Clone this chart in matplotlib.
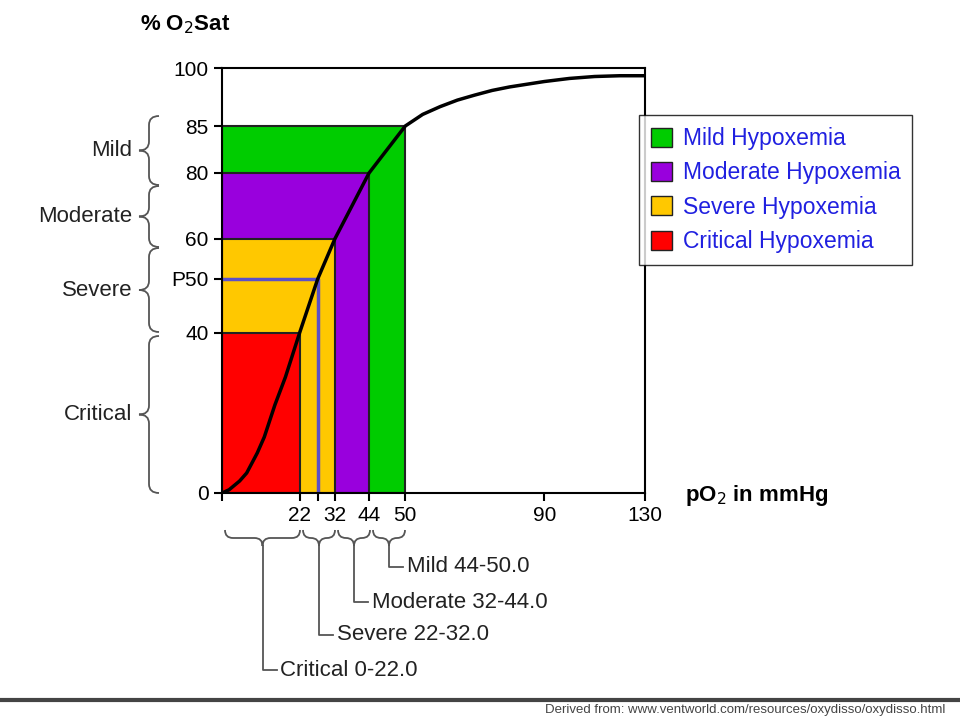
import numpy as np
import matplotlib
matplotlib.use("Agg")
import matplotlib.pyplot as plt
from matplotlib.path import Path
from matplotlib.patches import PathPatch, Patch

plt.rcParams['font.family'] = ['Liberation Sans', 'DejaVu Sans']

# ---- data ----
levels = ["Mild Hypoxemia", "Moderate Hypoxemia", "Severe Hypoxemia", "Critical Hypoxemia"]
po2_upper = [50, 44, 32, 22]
sat_upper = [85, 80, 60, 40]
colors = ["#00cc00", "#9900dd", "#ffc800", "#ff0000"]
p50_po2, p50_sat = 27, 50
curve_po2 = [0, 2, 5, 7, 10, 12, 15, 18, 22, 27, 32, 38, 44, 50, 55, 60, 65, 70, 75, 80, 90, 100, 110, 120, 130]
curve_sat = [0, 0.8, 3, 5, 10, 14, 22, 29, 40, 50, 60, 70, 80, 85, 88, 90, 91.7, 93, 94.2, 95.1, 96.5, 97.3, 97.8, 98, 98]
xticks = [0, 22, 27, 32, 44, 50, 90, 130]
xticklabels = ["", "22", "", "32", "44", "50", "90", "130"]
yticks = [0, 40, 50, 60, 80, 85, 100]
yticklabels = ["0", "40", "P50", "60", "80", "85", "100"]
left_groups = ["Mild", "Moderate", "Severe", "Critical"]
bottom_labels = ["Mild 44-50.0", "Moderate 32-44.0", "Severe 22-32.0", "Critical 0-22.0"]

# nonlinear axis layouts (positions in axis pixels)
xa = np.array([0, 22, 27, 32, 44, 50, 90, 130]); xp = np.array([3, 80, 98, 115, 149, 185, 323, 423])
ya = np.array([0, 40, 50, 60, 80, 85, 100]); yp = np.array([0, 160, 214, 254, 320, 367, 425])

fig = plt.figure(figsize=(9.6, 7.2), dpi=100)
ax = fig.add_axes([222/960, 1-493/720, 423/960, 425/720])
ax.set_xscale("function", functions=(lambda v: np.interp(v, xa, xp), lambda p: np.interp(p, xp, xa)))
ax.set_yscale("function", functions=(lambda v: np.interp(v, ya, yp), lambda p: np.interp(p, yp, ya)))
ax.set_xlim(-1, 130); ax.set_ylim(0, 100)

for w, h, c, lab in zip(po2_upper, sat_upper, colors, levels):
    ax.bar(0, h, width=w, align="edge", color=c, edgecolor="#222222", linewidth=1.5, label=lab)
ax.plot([0, p50_po2, p50_po2], [p50_sat, p50_sat, 0], color="#5a50c8", lw=2.5)
ax.plot(curve_po2, curve_sat, color="black", lw=2.5, solid_joinstyle="round")

ax.set_xticks(xticks); ax.set_xticklabels(xticklabels, fontsize=15)
ax.set_yticks(yticks); ax.set_yticklabels(yticklabels, fontsize=15)
ax.tick_params(length=6, width=1.5)
for s in ax.spines.values():
    s.set_linewidth(1.5)

fig.text(140/960, 1-25/720, "% O$_2$Sat", fontsize=16, fontweight="bold", ha="left", va="center")
fig.text(685/960, 1-495/720, "pO$_2$ in mmHg", fontsize=16, fontweight="bold", ha="left", va="center")

handles = [Patch(facecolor=c, edgecolor="#222222") for c in colors]
fig.legend(handles, levels, loc="upper left", bbox_to_anchor=(628/960, 1-104/720), fontsize=16.5,
           labelcolor="#2020e0", frameon=True, edgecolor="black", fancybox=False,
           handlelength=0.9, handleheight=0.9, borderpad=0.5, labelspacing=0.5, handletextpad=0.5)

def fp(x, y):
    return (x/960, 1-y/720)

def vbrace(x, y0, y1, w=20, r=9):
    ym = (y0+y1)/2
    pts = [(x+w, y0), (x+w/2, y0), (x+w/2, y0+r), (x+w/2, ym-r), (x+w/2, ym), (x, ym),
           (x+w/2, ym), (x+w/2, ym+r), (x+w/2, y1-r), (x+w/2, y1), (x+w, y1)]
    codes = [Path.MOVETO, Path.CURVE3, Path.CURVE3, Path.LINETO, Path.CURVE3, Path.CURVE3,
             Path.CURVE3, Path.CURVE3, Path.LINETO, Path.CURVE3, Path.CURVE3]
    fig.add_artist(PathPatch(Path([fp(*p) for p in pts], codes), fill=False, ec="#555555", lw=1.3,
                             transform=fig.transFigure))

def hbrace(x0, x1, y, h=16, r=8):
    xm = (x0+x1)/2
    pts = [(x0, y), (x0, y+h/2), (x0+r, y+h/2), (xm-r, y+h/2), (xm, y+h/2), (xm, y+h),
           (xm, y+h/2), (xm+r, y+h/2), (x1-r, y+h/2), (x1, y+h/2), (x1, y)]
    codes = [Path.MOVETO, Path.CURVE3, Path.CURVE3, Path.LINETO, Path.CURVE3, Path.CURVE3,
             Path.CURVE3, Path.CURVE3, Path.LINETO, Path.CURVE3, Path.CURVE3]
    fig.add_artist(PathPatch(Path([fp(*p) for p in pts], codes), fill=False, ec="#555555", lw=1.3,
                             transform=fig.transFigure))
    return xm, y+h

left_spans = [(116, 185), (186, 247), (248, 332), (336, 493)]
for name, (a, b) in zip(left_groups, left_spans):
    vbrace(139, a, b)
    fig.text(*fp(132, (a+b)/2), name, fontsize=16, ha="right", va="center", color="#222222")

bottom_spans = [(373, 405), (338, 370), (303, 335), (225, 300)]
label_y = [567, 602, 635, 670]
for lab, (a, b), ly in zip(bottom_labels, bottom_spans, label_y):
    tx, ty = hbrace(a, b, 530)
    fig.add_artist(plt.Line2D([tx/960, tx/960, (tx+14)/960], [1-ty/720, 1-ly/720, 1-ly/720],
                              color="#555555", lw=1.3, transform=fig.transFigure))
    fig.text(*fp(tx+18, ly), lab, fontsize=16, ha="left", va="center", color="#222222")

fig.add_artist(plt.Line2D([0, 1], [1-700/720, 1-700/720], color="#444444", lw=3, transform=fig.transFigure))
fig.text(*fp(945, 710), "Derived from: www.ventworld.com/resources/oxydisso/oxydisso.html",
         fontsize=9.5, ha="right", va="center", color="#444444")

fig.savefig("out.png", dpi=100)
